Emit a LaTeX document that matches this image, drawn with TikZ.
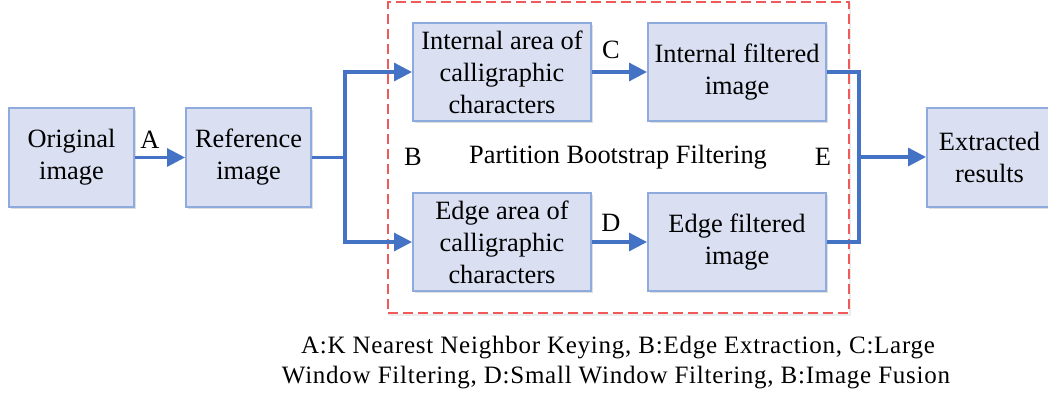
\documentclass[tikz,border=0pt]{standalone}
\usepackage{fontspec}
\setmainfont{Liberation Serif}
\newfontfamily\capfont[LetterSpace=3]{Liberation Serif}
\usetikzlibrary{arrows.meta,shadows}
\definecolor{arrowblue}{HTML}{4472C4}
\definecolor{boxfill}{HTML}{DAE0F2}
\definecolor{boxedge}{HTML}{8FAADC}
\definecolor{dashred}{HTML}{F05A5A}
\begin{document}
\begin{tikzpicture}[x=0.5pt,y=-0.5pt,
 box/.style={draw=boxedge, line width=1pt, fill=boxfill, minimum width=62.5pt, minimum height=49.5pt, align=center, inner sep=0pt, font=\fontsize{13.2}{16}\selectfont, drop shadow={shadow xshift=1pt, shadow yshift=-1.2pt, opacity=0.25}},
 wide/.style={box, minimum width=89pt, minimum height=49pt},
 link/.style={draw=arrowblue, line width=1.6pt},
 flow/.style={link, -{Triangle[length=9pt,width=9pt]}},
 lbl/.style={font=\fontsize{13.2}{16}\selectfont, inner sep=0pt},
 captext/.style={font=\capfont\fontsize{12.5}{15}\selectfont, inner sep=0pt, anchor=base},
 region/.style={draw=dashred, line width=1pt, dash pattern=on 5pt off 2.5pt, minimum width=230.5pt, minimum height=155.5pt, inner sep=0pt},
]
\useasboundingbox (0,0) rectangle (1048,396);
\node[region, draw=black!15, dash pattern=on 1pt off 0pt, opacity=0.5] (partsh) at (619.5,159.5) {};
\node[region, fill=white] (part) at (618.5,157.5) {};
\node[box] (orig) at (71.5,157.5) {Original\\image};
\node[box] (ref) at (248.5,157.5) {Reference\\image};
\node[wide] (inA) at (502,72) {Internal area of\\calligraphic\\characters};
\node[wide] (inF) at (737,72) {Internal filtered\\image};
\node[wide] (edA) at (502,242) {Edge area of\\calligraphic\\characters};
\node[wide] (edF) at (737,242) {Edge filtered\\image};
\node[box] (ext) at (989.5,157) {Extracted\\results};
\coordinate (split) at (345,157.5);
\coordinate (merge) at (859,157);
\draw[flow] (orig) -- (ref);
\draw[link] (ref.east) -- (split);
\draw[flow] (split) |- (inA.west);
\draw[flow] (split) |- (edA.west);
\draw[flow] (inA) -- (inF);
\draw[flow] (edA) -- (edF);
\draw[link] (inF.east) -| (merge);
\draw[link] (edF.east) -| (merge);
\draw[flow] (merge) -- (ext);
\node[lbl] (la) at (150,140) {A};
\node[lbl] (lc) at (611,50) {C};
\node[lbl] (ld) at (611,223) {D};
\node[lbl] (lb) at (413,157) {B};
\node[lbl] (le) at (823,157) {E};
\node[lbl] (pbf) at (618,157) {Partition Bootstrap Filtering};
\node[captext] (cap1) at (618,353) {A:K Nearest Neighbor Keying, B:Edge Extraction, C:Large};
\node[captext] (cap2) at (616,383) {Window Filtering, D:Small Window Filtering, B:Image Fusion};
\end{tikzpicture}
\end{document}
